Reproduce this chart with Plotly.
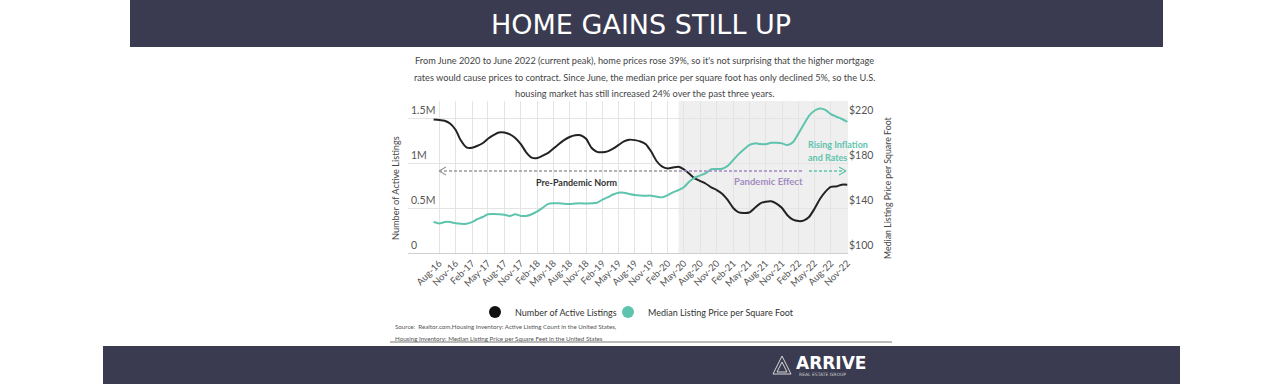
import pandas as pd
import plotly.graph_objects as go

# ---------------- data ----------------
months = pd.date_range("2016-07-01", "2022-11-01", freq="MS")

active_listings_m = [
    1.485, 1.48, 1.47, 1.44, 1.37, 1.25,          # Jul-16 .. Dec-16
    1.175, 1.17, 1.19, 1.22, 1.27, 1.31, 1.34, 1.34, 1.32, 1.28, 1.21, 1.12,   # 2017
    1.06, 1.055, 1.08, 1.11, 1.16, 1.21, 1.255, 1.29, 1.31, 1.31, 1.27, 1.17,  # 2018
    1.125, 1.12, 1.13, 1.16, 1.20, 1.24, 1.26, 1.255, 1.24, 1.21, 1.125, 1.02, # 2019
    0.96, 0.94, 0.95, 0.96, 0.93, 0.88, 0.83, 0.80, 0.77, 0.73, 0.70, 0.66,    # 2020
    0.59, 0.50, 0.455, 0.445, 0.45, 0.50, 0.55, 0.57, 0.575, 0.55, 0.50, 0.42, # 2021
    0.37, 0.355, 0.36, 0.40, 0.49, 0.60, 0.68, 0.735, 0.74, 0.76, 0.76,        # 2022
]

price_per_sqft = [
    127.5, 126.3, 127.5, 127.6, 126.5, 126.0,                                   # Jul-16 .. Dec-16
    126.0, 127.5, 130.0, 132.0, 134.5, 134.7, 134.5, 134.0, 133.0, 134.5, 133.0, 133.0,  # 2017
    134.5, 137.0, 140.0, 143.5, 144.2, 144.2, 143.8, 143.6, 144.0, 144.2, 144.0, 144.2,  # 2018
    144.7, 147.5, 149.5, 152.0, 153.6, 153.6, 152.5, 151.6, 151.2, 151.0, 151.0, 150.0,  # 2019
    149.5, 151.5, 154.0, 156.0, 158.5, 163.5, 167.0, 169.0, 171.0, 174.5, 174.7, 175.0,  # 2020
    177.5, 182.7, 187.5, 192.0, 196.0, 197.5, 197.0, 196.8, 198.0, 198.0, 197.5, 196.0,  # 2021
    198.5, 206.4, 214.0, 222.0, 226.5, 228.6, 227.3, 223.5, 221.2, 219.2, 216.7,         # 2022
]

x_tick_dates = pd.date_range("2016-08-01", "2022-11-01", freq="3MS")
x_tick_labels = [d.strftime("%b-%y") for d in x_tick_dates]

left_tick_vals = [0, 500000, 1000000, 1500000]
left_tick_text = ["0", "0.5M", "1M", "1.5M"]
right_tick_vals = [100, 140, 180, 220]
right_tick_text = ["$100", "$140", "$180", "$220"]

listings = [v * 1e6 for v in active_listings_m]

# ---------------- styling ----------------
NARROW = "Lato, sans-serif"
BAND = "#3a3b50"
TEAL = "#5ec4ad"
BLACK = "#222222"
PURPLE = "#a38bc2"
GRAY_TXT = "#555555"

PL, PR, PT, PB = 408, 848, 101, 253  # plot area in pixels


def px(x):
    return (x - PL) / (PR - PL)


def py(y):
    return (PB - y) / (PB - PT)


fig = go.Figure()
fig.add_trace(go.Scatter(x=months, y=listings, mode="lines",
                         line=dict(color=BLACK, width=2, shape="spline", smoothing=0.6),
                         name="Number of Active Listings", showlegend=False,
                         hoverinfo="skip"))
fig.add_trace(go.Scatter(x=months, y=price_per_sqft, mode="lines", yaxis="y2",
                         line=dict(color=TEAL, width=2, shape="spline", smoothing=0.6),
                         name="Median Listing Price per Square Foot", showlegend=False,
                         hoverinfo="skip"))
# legend entries with circle markers
fig.add_trace(go.Scatter(x=[None], y=[None], mode="markers", legend="legend",
                         marker=dict(color="#111111", size=12, symbol="circle"),
                         name="Number of Active Listings"))
fig.add_trace(go.Scatter(x=[None], y=[None], mode="markers", legend="legend2",
                         marker=dict(color=TEAL, size=12, symbol="circle"),
                         name="Median Listing Price per Square Foot"))

ymax_left = 1.69e6
ymax_right = 100 + 120 * ymax_left / 1.5e6

shapes = [
    # top title band
    dict(type="rect", xref="paper", yref="paper", x0=px(130), x1=px(1163), y0=py(47), y1=py(0),
         fillcolor=BAND, line=dict(width=0), layer="below"),
    # bottom band
    dict(type="rect", xref="paper", yref="paper", x0=px(103), x1=px(1180), y0=py(384), y1=py(346),
         fillcolor=BAND, line=dict(width=0), layer="below"),
    # pandemic shading
    dict(type="rect", xref="x", yref="paper", x0="2020-04-01", x1="2022-11-05", y0=0, y1=1,
         fillcolor="#efefef", line=dict(width=0), layer="below"),
    # pre-pandemic dashed arrow
    dict(type="line", xref="paper", yref="paper", x0=px(439), x1=px(679), y0=py(171), y1=py(171),
         line=dict(color="#9a9a9a", width=1.3, dash="3px,2px")),
    dict(type="line", xref="paper", yref="paper", x0=px(439), x1=px(446), y0=py(171), y1=py(167),
         line=dict(color="#9a9a9a", width=1.3)),
    dict(type="line", xref="paper", yref="paper", x0=px(439), x1=px(446), y0=py(171), y1=py(175),
         line=dict(color="#9a9a9a", width=1.3)),
    # pandemic effect dashed line
    dict(type="line", xref="paper", yref="paper", x0=px(679), x1=px(802), y0=py(171), y1=py(171),
         line=dict(color=PURPLE, width=1.3, dash="3px,2px")),
    # rising inflation dashed arrow
    dict(type="line", xref="paper", yref="paper", x0=px(809), x1=px(846), y0=py(171), y1=py(171),
         line=dict(color=TEAL, width=1.3, dash="3px,2px")),
    dict(type="line", xref="paper", yref="paper", x0=px(846), x1=px(839), y0=py(171), y1=py(167),
         line=dict(color=TEAL, width=1.3)),
    dict(type="line", xref="paper", yref="paper", x0=px(846), x1=px(839), y0=py(171), y1=py(175),
         line=dict(color=TEAL, width=1.3)),
    # source separator line
    dict(type="line", xref="paper", yref="paper", x0=px(390), x1=px(892), y0=py(342), y1=py(342),
         line=dict(color="#777777", width=1)),
    # logo triangles
    dict(type="path", xref="paper", yref="paper",
         path=f"M {px(773)} {py(374)} L {px(782)} {py(356)} L {px(791)} {py(374)} Z",
         line=dict(color="#d8d8d8", width=1)),
    dict(type="path", xref="paper", yref="paper",
         path=f"M {px(777)} {py(372)} L {px(782)} {py(362)} L {px(787)} {py(372)} Z",
         line=dict(color="#d8d8d8", width=1)),
]


def ann(text, x, y, size, color, xanchor="center", yanchor="middle", family=NARROW, angle=0):
    return dict(text=text, x=px(x), y=py(y), xref="paper", yref="paper", showarrow=False,
                xanchor=xanchor, yanchor=yanchor, textangle=angle,
                font=dict(size=size, color=color, family=family))


annotations = [
    ann("HOME GAINS STILL UP", 641, 24, 27, "white", family='"DejaVu Sans", sans-serif'),
    ann("From June 2020 to June 2022 (current peak), home prices rose 39%, so it's not surprising that the higher mortgage",
        644, 60, 9.2, "#444444"),
    ann("rates would cause prices to contract. Since June, the median price per square foot has only declined 5%, so the U.S.",
        644, 77, 9.2, "#444444"),
    ann("housing market has still increased 24% over the past three years.", 644, 93, 9.2, "#444444"),
    ann("Number of Active Listings", 395, 188, 9.2, "#444444", angle=-90),
    ann("Median Listing Price per Square Foot", 887, 188, 8.8, "#444444", angle=-90),
    ann("<b>Pre-Pandemic Norm</b>", 577, 182, 9, "#333333"),
    ann("<b>Pandemic Effect</b>", 768, 181, 9.5, PURPLE),
    ann("<b>Rising Inflation</b>", 806, 144, 9, TEAL, xanchor="left"),
    ann("<b>and Rates</b>", 806, 157, 9, TEAL, xanchor="left"),
    ann("Source:  Realtor.com,Housing Inventory: Active Listing Count in the United States,",
        393, 326, 6.2, GRAY_TXT, xanchor="left"),
    ann("Housing Inventory: Median Listing Price per Square Feet in the United States",
        393, 338, 6.2, GRAY_TXT, xanchor="left"),
    ann("<b>ARRIVE</b>", 794, 363, 17, "white", xanchor="left", family='"DejaVu Sans", sans-serif'),
    ann("REAL ESTATE GROUP", 797, 374, 4.5, "#cccccc", xanchor="left", family='"DejaVu Sans", sans-serif'),
]

legend_common = dict(orientation="h", yanchor="middle", y=py(312), xanchor="left",
                     font=dict(size=9, color="#333333", family=NARROW),
                     itemwidth=30, bgcolor="rgba(0,0,0,0)", borderwidth=0)

fig.update_layout(
    width=1280, height=384,
    margin=dict(l=PL, r=1280 - PR, t=PT, b=384 - PB, autoexpand=False),
    paper_bgcolor="white", plot_bgcolor="white",
    font=dict(family=NARROW, color=GRAY_TXT, size=10),
    shapes=shapes, annotations=annotations,
    legend=dict(x=px(497 - 22), **legend_common),
    legend2=dict(x=px(630 - 22), **legend_common),
    xaxis=dict(type="date", range=["2016-02-09", "2022-11-05"],
               tickvals=list(x_tick_dates), ticktext=x_tick_labels, tickangle=-45,
               tickfont=dict(size=9.5, color=GRAY_TXT), showgrid=True, gridcolor="#e4e4e4",
               showline=True, linecolor="#d0d0d0", ticks="", zeroline=False, fixedrange=True),
    yaxis=dict(range=[0, ymax_left], tickvals=left_tick_vals, ticktext=left_tick_text,
               ticklabelposition="inside top", tickfont=dict(size=10.5, color=GRAY_TXT),
               showgrid=True, gridcolor="#e4e4e4", zeroline=False, ticks="", showline=False),
    yaxis2=dict(range=[100, ymax_right], tickvals=right_tick_vals, ticktext=right_tick_text,
                overlaying="y", side="right", ticklabelposition="outside top",
                tickfont=dict(size=10.5, color=GRAY_TXT), showgrid=False, zeroline=False,
                ticks="", showline=False),
)

fig.write_html("out.html", config={"displayModeBar": False},
               post_script="document.body.style.margin='0px';")
